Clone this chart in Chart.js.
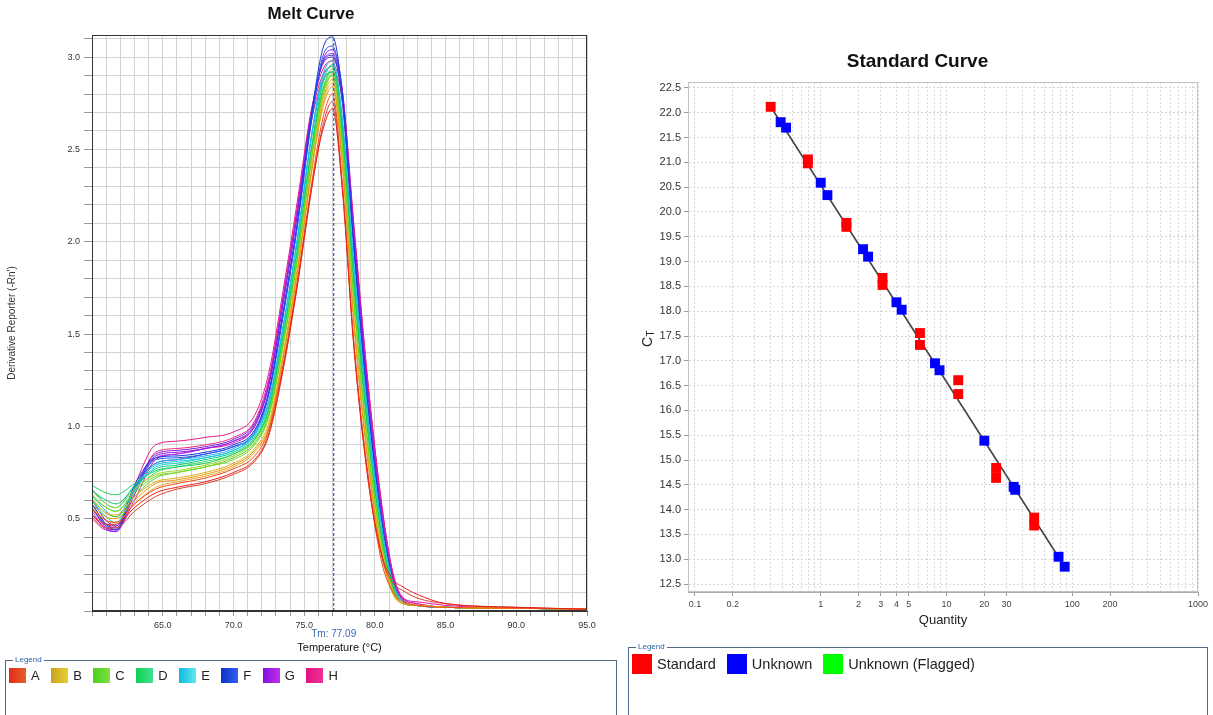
<!DOCTYPE html>
<html>
<head>
<meta charset="utf-8">
<title>Melt Curve / Standard Curve</title>
<script src="https://cdn.jsdelivr.net/npm/chart.js@4.4.1/dist/chart.umd.min.js"></script>
<style>
  html, body { margin: 0; padding: 0; background: #fff; }
  body { width: 1213px; height: 715px; position: relative; overflow: hidden; font-family: "Liberation Sans", Arial, sans-serif; }
  #meltChart { position: absolute; left: 0; top: 0; }
  #stdChart { position: absolute; left: 622px; top: 0; }
  .legendBox { position: absolute; margin: 0; padding: 0 0 0 3px; border: 1px solid #4d6b87; box-sizing: border-box; }
  .legendBox legend { font-size: 8px; line-height: 8px; color: #2d62a8; padding: 0 2px; margin-left: 4px; }
  .item { display: inline-flex; align-items: center; color: #222; }
  .swatch { display: inline-block; }
  #meltLegend { left: 5px; top: 656px; width: 612px; height: 70px; }
  #meltLegend .items { margin-top: 4px; font-size: 13px; }
  #meltLegend .item { margin-right: 11.5px; }
  #meltLegend .swatch { width: 17px; height: 15px; margin-right: 5px; }
  #stdLegend { left: 628px; top: 643px; width: 580px; height: 75px; }
  #stdLegend .items { margin-top: 3px; font-size: 14.5px; }
  #stdLegend .item { margin-right: 11px; }
  #stdLegend .swatch { width: 20px; height: 20px; margin-right: 5px; }
</style>
</head>
<body>
<canvas id="meltChart" width="622" height="660"></canvas>
<canvas id="stdChart" width="591" height="640"></canvas>
<fieldset id="meltLegend" class="legendBox"><legend>Legend</legend><div class="items"></div></fieldset>
<fieldset id="stdLegend" class="legendBox"><legend>Legend</legend><div class="items"></div></fieldset>
<script>
"use strict";

// ---- melt curve data (derivative reporter vs temperature) ----
const temps = [60, 61, 61.7, 63, 64.5, 66, 68, 70, 71.5, 72.5, 73.5, 74.5, 75.5, 76.3, 77, 77.7, 78.5, 79.5, 80.5, 81.3, 82, 83, 85, 90, 95];

const rowA = [
  [.52, .47, .47, .56, .64, .67, .70, .75, .82, .96, 1.31, 1.76, 2.28, 2.60, 2.72, 2.28, 1.44, .72, .30, .17, .13, .09, .04, .02, .01],
  [.55, .49, .48, .58, .66, .69, .72, .77, .84, .98, 1.33, 1.78, 2.30, 2.66, 2.80, 2.32, 1.46, .73, .26, .10, .05, .03, .02, .015, .01],
  [.51, .45, .45, .54, .62, .66, .69, .74, .81, .95, 1.30, 1.75, 2.27, 2.62, 2.76, 2.30, 1.47, .75, .29, .15, .11, .07, .04, .02, .01]
];
const rowB = [
  [.58, .51, .50, .60, .69, .71, .74, .79, .87, 1.00, 1.37, 1.83, 2.37, 2.72, 2.84, 2.42, 1.57, .81, .30, .09, .04, .03, .02, .015, .01],
  [.61, .53, .52, .62, .70, .72, .75, .80, .88, 1.02, 1.39, 1.85, 2.39, 2.76, 2.88, 2.44, 1.59, .83, .31, .09, .04, .03, .02, .015, .01],
  [.56, .49, .48, .58, .67, .70, .73, .78, .86, .99, 1.36, 1.82, 2.36, 2.74, 2.86, 2.43, 1.60, .84, .32, .10, .04, .03, .02, .015, .01]
];
const rowC = [
  [.63, .56, .54, .64, .73, .75, .78, .82, .90, 1.05, 1.43, 1.89, 2.43, 2.78, 2.90, 2.50, 1.68, .89, .35, .11, .04, .03, .02, .015, .01],
  [.60, .53, .51, .62, .72, .75, .78, .83, .91, 1.06, 1.44, 1.90, 2.44, 2.81, 2.94, 2.53, 1.71, .91, .36, .11, .04, .03, .02, .015, .01],
  [.65, .58, .56, .66, .74, .76, .79, .84, .92, 1.07, 1.45, 1.91, 2.45, 2.79, 2.91, 2.51, 1.70, .90, .35, .11, .04, .03, .02, .015, .01]
];
const rowD = [
  [.68, .64, .63, .69, .76, .78, .80, .85, .93, 1.09, 1.48, 1.94, 2.49, 2.82, 2.92, 2.58, 1.78, .97, .39, .12, .04, .03, .02, .015, .01],
  [.65, .60, .58, .67, .77, .79, .82, .86, .94, 1.10, 1.49, 1.95, 2.50, 2.85, 2.96, 2.61, 1.81, .99, .40, .13, .04, .03, .02, .015, .01],
  [.62, .56, .54, .65, .75, .78, .81, .85, .93, 1.08, 1.47, 1.93, 2.48, 2.81, 2.90, 2.59, 1.80, .98, .40, .13, .05, .03, .02, .015, .01]
];
const rowE = [
  [.66, .58, .56, .68, .79, .81, .83, .87, .96, 1.13, 1.53, 2.00, 2.56, 2.88, 2.95, 2.65, 1.87, 1.04, .44, .14, .05, .03, .02, .015, .01],
  [.63, .54, .51, .66, .80, .82, .84, .88, .97, 1.14, 1.54, 2.01, 2.57, 2.90, 2.98, 2.67, 1.89, 1.06, .45, .14, .05, .03, .02, .015, .01],
  [.60, .51, .48, .65, .78, .80, .83, .87, .95, 1.12, 1.52, 1.99, 2.55, 2.86, 2.92, 2.64, 1.88, 1.05, .44, .15, .05, .03, .02, .015, .01]
];
const rowF = [
  [.58, .47, .44, .68, .83, .84, .86, .90, .98, 1.19, 1.62, 2.10, 2.68, 3.04, 3.11, 2.80, 2.00, 1.13, .48, .15, .05, .03, .02, .015, .01],
  [.56, .46, .44, .66, .82, .83, .85, .89, .97, 1.18, 1.60, 2.08, 2.66, 3.00, 3.06, 2.78, 1.98, 1.12, .48, .15, .05, .03, .02, .015, .01],
  [.60, .49, .46, .67, .80, .82, .85, .89, .96, 1.17, 1.59, 2.07, 2.64, 2.97, 3.01, 2.75, 1.97, 1.11, .47, .15, .05, .03, .02, .015, .01]
];
const rowG = [
  [.56, .45, .43, .65, .84, .86, .88, .92, 1.00, 1.22, 1.66, 2.14, 2.68, 2.98, 3.04, 2.82, 2.06, 1.19, .52, .17, .06, .03, .02, .015, .01],
  [.54, .44, .43, .63, .83, .85, .88, .92, 1.01, 1.23, 1.67, 2.15, 2.69, 2.97, 3.02, 2.80, 2.05, 1.18, .52, .17, .06, .03, .02, .015, .01],
  [.58, .47, .45, .66, .85, .87, .89, .93, 1.02, 1.24, 1.68, 2.16, 2.70, 2.96, 3.00, 2.79, 2.04, 1.18, .51, .17, .06, .03, .02, .015, .01]
];
const rowH = [
  [.55, .47, .46, .68, .90, .92, .94, .97, 1.06, 1.29, 1.73, 2.21, 2.71, 2.93, 2.98, 2.82, 2.11, 1.25, .57, .19, .07, .04, .02, .015, .01],
  [.52, .45, .44, .63, .86, .88, .90, .94, 1.03, 1.26, 1.70, 2.18, 2.68, 2.90, 2.95, 2.80, 2.09, 1.24, .56, .19, .07, .04, .02, .015, .01],
  [.50, .44, .44, .60, .82, .85, .88, .91, 1.00, 1.23, 1.67, 2.15, 2.65, 2.87, 2.92, 2.77, 2.08, 1.23, .56, .20, .07, .05, .03, .015, .01]
];

const rowNames = ["A", "B", "C", "D", "E", "F", "G", "H"];
const tmValue = 77.09;

// ---- standard curve data ----
const stdQuantity = [0.40, 0.79, 0.79, 1.6, 1.6, 3.1, 3.1, 6.15, 6.15, 12.4, 12.4, 24.8, 24.8, 49.8, 49.8];
const stdCt = [22.12, 21.06, 20.98, 19.78, 19.70, 18.67, 18.53, 17.56, 17.32, 16.61, 16.33, 14.84, 14.64, 13.84, 13.68];
const unkQuantity = [0.48, 0.53, 1.0, 1.13, 2.17, 2.38, 4.0, 4.4, 8.1, 8.8, 20.0, 34.2, 35.2, 77.8, 87.1];
const unkCt = [21.81, 21.70, 20.59, 20.34, 19.25, 19.10, 18.18, 18.03, 16.95, 16.81, 15.39, 14.46, 14.40, 13.05, 12.85];
const fitQuantity = [0.40, 87.1];
const fitCt = [22.12, 12.85];
const ctTicks = [12.5, 13.0, 13.5, 14.0, 14.5, 15.0, 15.5, 16.0, 16.5, 17.0, 17.5, 18.0, 18.5, 19.0, 19.5, 20.0, 20.5, 21.0, 21.5, 22.0, 22.5];
const qtyLabels = [0.1, 0.2, 1, 2, 3, 4, 5, 10, 20, 30, 100, 200, 1000];
const stdSeries = ["Standard", "Unknown", "Unknown (Flagged)"];

// colours
const rowColors = [
  ["#e8201c", "#f04a18", "#d8402c"],
  ["#e89a10", "#d8b020", "#f0a830"],
  ["#78d818", "#58d030", "#a0d820"],
  ["#18d060", "#10c878", "#38e070"],
  ["#18c0e0", "#30a8e8", "#10d8d8"],
  ["#1838e0", "#2858f0", "#3040c8"],
  ["#9018e8", "#a830f0", "#7820d8"],
  ["#e81890", "#f02878", "#d818a8"]
];
const rowSwatches = [
  ["#e02a1a", "#e8602a"], ["#c8a020", "#e8d030"], ["#48d020", "#80e040"], ["#10d050", "#40e090"],
  ["#10b8e0", "#60e8f0"], ["#1030c8", "#3060f0"], ["#8010e0", "#c030e8"], ["#e01080", "#f03098"]
];
const stdColors = ["#ff0000", "#0000ff", "#00ff00"];

Chart.defaults.font.family = '"Liberation Sans", Arial, sans-serif';
Chart.defaults.color = "#333";

// box round the plot area
const framePlugin = {
  id: "frame",
  afterDraw(chart, args, opts) {
    const { ctx, chartArea: a } = chart;
    ctx.save();
    ctx.strokeStyle = opts.color;
    ctx.lineWidth = 1;
    ctx.strokeRect(a.left + 0.5, a.top + 0.5, a.right - a.left - 1, a.bottom - a.top - 1);
    ctx.restore();
  }
};

const tmLabelPlugin = {
  id: "tmLabel",
  afterDraw(chart, args, opts) {
    const ctx = chart.ctx;
    const x = chart.scales.x.getPixelForValue(opts.value);
    ctx.save();
    ctx.font = '10px "Liberation Sans", Arial, sans-serif';
    ctx.fillStyle = "#3868b0";
    ctx.textAlign = "center";
    ctx.textBaseline = "middle";
    ctx.fillText("Tm: " + opts.value.toFixed(2), x, opts.y);
    ctx.restore();
  }
};

// C with subscript T on the standard curve y axis
const ctTitlePlugin = {
  id: "ctTitle",
  afterDraw(chart, args, opts) {
    const { ctx, chartArea: a } = chart;
    ctx.save();
    ctx.translate(opts.x, (a.top + a.bottom) / 2);
    ctx.rotate(-Math.PI / 2);
    ctx.fillStyle = "#222";
    ctx.textBaseline = "middle";
    ctx.font = '14px "Liberation Sans", Arial, sans-serif';
    const w = ctx.measureText("C").width;
    ctx.fillText("C", -w, 0);
    ctx.font = '10px "Liberation Sans", Arial, sans-serif';
    ctx.fillText("T", 0.5, 3);
    ctx.restore();
  }
};

// empty axis on the right, only to keep the title centred on the whole panel
const spacerAxis = (w) => ({
  position: "right",
  display: true,
  afterFit: (s) => { s.width = w; },
  ticks: { display: false },
  grid: { display: false },
  border: { display: false }
});

// ---- melt curve chart ----
const meltRows = [rowA, rowB, rowC, rowD, rowE, rowF, rowG, rowH];
const meltDatasets = [{
  data: [{ x: tmValue, y: 0 }, { x: tmValue, y: 3.12 }],
  borderColor: "#4a6aa8",
  borderWidth: 1.3,
  borderDash: [3, 2],
  pointRadius: 0
}];
meltRows.forEach((row, r) => {
  row.forEach((vals, w) => {
    meltDatasets.push({
      data: vals.map((v, i) => ({ x: temps[i], y: v })),
      borderColor: rowColors[r][w],
      borderWidth: 1,
      pointRadius: 0,
      cubicInterpolationMode: "monotone"
    });
  });
});

new Chart(document.getElementById("meltChart"), {
  type: "line",
  data: { datasets: meltDatasets },
  options: {
    responsive: false,
    animation: false,
    devicePixelRatio: 1,
    layout: { padding: 0 },
    plugins: {
      legend: { display: false },
      tooltip: { enabled: false },
      title: {
        display: true,
        text: "Melt Curve",
        color: "#111",
        font: { size: 17, weight: "bold" },
        padding: { top: 4, bottom: 10.6 }
      },
      frame: { color: "#333" },
      tmLabel: { value: tmValue, y: 634 }
    },
    scales: {
      x: {
        type: "linear",
        min: 60,
        max: 95,
        afterBuildTicks: (s) => {
          const t = [];
          for (let v = 60; v <= 95; v++) t.push({ value: v });
          s.ticks = t;
        },
        afterFit: (s) => { s.height = 49; },
        ticks: {
          autoSkip: false,
          maxRotation: 0,
          padding: 4,
          font: { size: 9 },
          color: "#333",
          callback: (v) => (v % 5 === 0 && v > 60 ? v.toFixed(1) : "")
        },
        grid: { color: "#d2d2d2", tickColor: "#999", tickLength: 5 },
        border: { color: "#333" },
        title: {
          display: true,
          text: "Temperature (°C)",
          color: "#111",
          font: { size: 11 },
          padding: { top: 0, bottom: 5.4 }
        }
      },
      y: {
        min: 0,
        max: 3.12,
        afterBuildTicks: (s) => {
          const t = [];
          for (let i = 0; i <= 31; i++) t.push({ value: i / 10 });
          s.ticks = t;
        },
        afterFit: (s) => { s.width = 92; },
        ticks: {
          autoSkip: false,
          padding: 4,
          font: { size: 9 },
          color: "#333",
          callback: (v) => (Math.round(v * 10) % 5 === 0 && v > 0 ? v.toFixed(1) : "")
        },
        grid: { color: "#d2d2d2", tickColor: "#999", tickLength: 8 },
        border: { color: "#333" },
        title: {
          display: true,
          text: "Derivative Reporter (-Rn')",
          color: "#333",
          font: { size: 10 },
          padding: { top: 6, bottom: 0 }
        }
      },
      pad: spacerAxis(35)
    }
  },
  plugins: [framePlugin, tmLabelPlugin]
});

// ---- standard curve chart ----
const sameQty = (a, b) => Math.abs(a - b) < 1e-9 * Math.max(1, b);

new Chart(document.getElementById("stdChart"), {
  type: "scatter",
  data: {
    datasets: [
      {
        label: stdSeries[0],
        data: stdQuantity.map((q, i) => ({ x: q, y: stdCt[i] })),
        pointStyle: "rect",
        pointRadius: 7,
        pointBackgroundColor: stdColors[0],
        pointBorderWidth: 0
      },
      {
        label: stdSeries[1],
        data: unkQuantity.map((q, i) => ({ x: q, y: unkCt[i] })),
        pointStyle: "rect",
        pointRadius: 7,
        pointBackgroundColor: stdColors[1],
        pointBorderWidth: 0
      },
      {
        label: "fit",
        data: fitQuantity.map((q, i) => ({ x: q, y: fitCt[i] })),
        showLine: true,
        borderColor: "#444",
        borderWidth: 1.6,
        pointRadius: 0
      }
    ]
  },
  options: {
    responsive: false,
    animation: false,
    devicePixelRatio: 1,
    layout: { padding: 0 },
    plugins: {
      legend: { display: false },
      tooltip: { enabled: false },
      title: {
        display: true,
        text: "Standard Curve",
        color: "#111",
        font: { size: 19, weight: "bold" },
        padding: { top: 50.6, bottom: 8.6 }
      },
      frame: { color: "#c4c4c4" },
      ctTitle: { x: 26 }
    },
    scales: {
      x: {
        type: "logarithmic",
        min: 0.088,
        max: 1000,
        afterBuildTicks: (s) => {
          const t = [];
          for (let e = -1; e <= 2; e++) {
            for (let m = 1; m <= 9; m++) t.push({ value: m * Math.pow(10, e) });
          }
          t.push({ value: 1000 });
          s.ticks = t;
        },
        afterFit: (s) => { s.height = 48; },
        ticks: {
          autoSkip: false,
          maxRotation: 0,
          padding: 3,
          font: { size: 9 },
          color: "#444",
          callback: (v) => {
            const hit = qtyLabels.find((q) => sameQty(v, q));
            return hit === undefined ? "" : String(hit);
          }
        },
        grid: {
          color: "#d8d8d8",
          tickLength: 4,
          tickColor: (c) => (c.tick && qtyLabels.some((q) => sameQty(c.tick.value, q)) ? "#999" : "rgba(0,0,0,0)")
        },
        border: { color: "#aaa", dash: [2, 2] },
        title: {
          display: true,
          text: "Quantity",
          color: "#222",
          font: { size: 13 },
          padding: { top: 0, bottom: 12.2 }
        }
      },
      y: {
        min: 12.34,
        max: 22.62,
        afterBuildTicks: (s) => { s.ticks = ctTicks.map((v) => ({ value: v })); },
        afterFit: (s) => { s.width = 66; },
        ticks: {
          autoSkip: false,
          padding: 3,
          font: { size: 11 },
          color: "#333",
          callback: (v) => v.toFixed(1)
        },
        grid: { color: "#d8d8d8", tickLength: 4, tickColor: "#999" },
        border: { color: "#aaa", dash: [2, 2] }
      },
      pad: spacerAxis(15)
    }
  },
  plugins: [framePlugin, ctTitlePlugin]
});

// ---- legends (html boxes like the instrument software) ----
const meltItems = document.querySelector("#meltLegend .items");
rowNames.forEach((name, i) => {
  const item = document.createElement("span");
  item.className = "item";
  const sw = document.createElement("span");
  sw.className = "swatch";
  sw.style.background = "linear-gradient(to right, " + rowSwatches[i][0] + ", " + rowSwatches[i][1] + ")";
  item.appendChild(sw);
  item.appendChild(document.createTextNode(name));
  meltItems.appendChild(item);
});

const stdItems = document.querySelector("#stdLegend .items");
stdSeries.forEach((name, i) => {
  const item = document.createElement("span");
  item.className = "item";
  const sw = document.createElement("span");
  sw.className = "swatch";
  sw.style.background = stdColors[i];
  item.appendChild(sw);
  item.appendChild(document.createTextNode(name));
  stdItems.appendChild(item);
});
</script>
</body>
</html>
